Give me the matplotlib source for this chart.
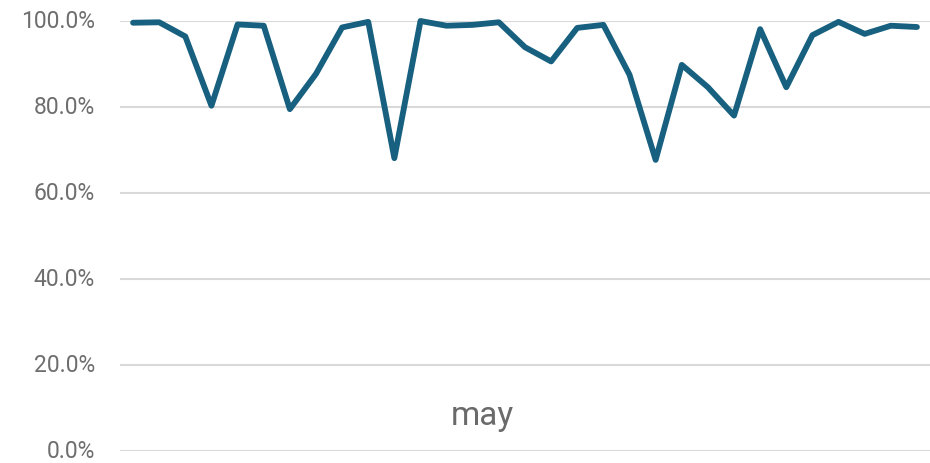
import matplotlib
matplotlib.use("Agg")
import matplotlib.pyplot as plt
from matplotlib.ticker import PercentFormatter
from matplotlib.transforms import ScaledTranslation

days = list(range(1, 32))
values = [99.6, 99.7, 96.4, 80.3, 99.2, 98.9, 79.5, 87.7, 98.5, 99.8,
          68.1, 100.0, 98.9, 99.1, 99.7, 93.9, 90.6, 98.4, 99.1, 87.5,
          67.7, 89.8, 84.6, 78.0, 98.1, 84.6, 96.7, 99.8, 97.0, 98.9, 98.6]
yticks = [0, 20, 40, 60, 80, 100]
category_label = "may"

W, H = 930, 464
fig = plt.figure(figsize=(W / 100, H / 100), dpi=100)
ax = fig.add_axes([120 / W, (H - 452) / H, (930 - 120) / W, (452 - 22) / H])

ax.plot(range(len(values)), values, color="#17607F", lw=4.2,
        solid_joinstyle="round", solid_capstyle="round", clip_on=False, zorder=3)

ax.set_xlim(-0.5, len(values) - 0.5)
ax.set_ylim(0, 100)
ax.set_yticks(yticks)
ax.yaxis.set_major_formatter(PercentFormatter(decimals=1))
ax.set_xticks([])
ax.grid(axis="y", color="#d9d9d9", lw=1.5)
ax.set_axisbelow(True)
for s in ax.spines.values():
    s.set_visible(False)
ax.tick_params(axis="y", length=0, pad=18, labelsize=16.5, labelcolor="#6e6e6e")
shift = ScaledTranslation(0, 3 / 100, fig.dpi_scale_trans)
for lbl in ax.get_yticklabels():
    lbl.set_fontfamily(["Roboto", "DejaVu Sans"])
    lbl.set_fontweight("normal")
    lbl.set_transform(lbl.get_transform() + shift)

fig.text(482 / W, 1 - 416 / H, category_label, ha="center", va="center",
         fontsize=24, color="#6a6a6a", family=["Roboto", "DejaVu Sans"],
         fontweight="normal")

fig.savefig("out.png", dpi=100)
